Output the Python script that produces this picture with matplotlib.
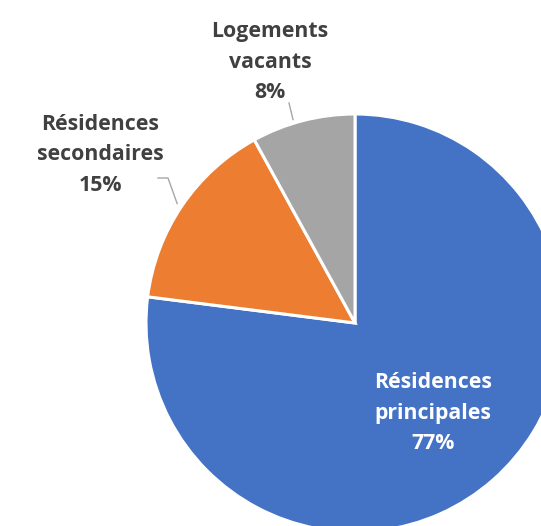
import numpy as np
import matplotlib
matplotlib.use("Agg")
import matplotlib.pyplot as plt

categories = ["Résidences\nprincipales", "Résidences\nsecondaires", "Logements\nvacants"]
shares = [77, 15, 8]
colors = ["#4472C4", "#ED7D31", "#A5A5A5"]

W, H = 541, 526
fig = plt.figure(figsize=(W / 100, H / 100), dpi=100)
ax = fig.add_axes([0, 0, 1, 1])

center = (355, H - 323)
radius = 209
start = 90

wedges, _ = ax.pie(shares, colors=colors, startangle=start, counterclock=False,
                   center=center, radius=radius, frame=True,
                   wedgeprops=dict(edgecolor="white", linewidth=2.2))
ax.set_xlim(0, W)
ax.set_ylim(0, H)
ax.set_aspect("equal")
ax.axis("off")

font = dict(family=["Open Sans", "DejaVu Sans"], fontweight="bold", fontsize=15.3,
            ha="center", va="center", linespacing=1.6)

# label anchor positions (pixel space, y measured from top)
label_pos = [(433, 413), (100, 155), (270, 62)]
text_colors = ["white", "#404040", "#404040"]

for cat, val, (lx, ly), tc in zip(categories, shares, label_pos, text_colors):
    ax.text(lx, H - ly, f"{cat}\n{val}%", color=tc, **font)

# leader lines from outside labels to the rim of their wedge
def rim_point(w, frac=1.0):
    ang = np.deg2rad((w.theta1 + w.theta2) / 2)
    return center[0] + radius * frac * np.cos(ang), center[1] + radius * frac * np.sin(ang)

lead = "#A6A6A6"
# secondaires
x1, y1 = rim_point(wedges[1])
ax.plot([158, 168, x1 - 5], [H - 178, H - 178, y1 + 2], color=lead, lw=1.0)
# vacants
x2, y2 = rim_point(wedges[2])
ax.plot([289, x2 - 10], [H - 103, y2 + 1], color=lead, lw=1.0)

fig.savefig("out.png", dpi=100, facecolor="white")
